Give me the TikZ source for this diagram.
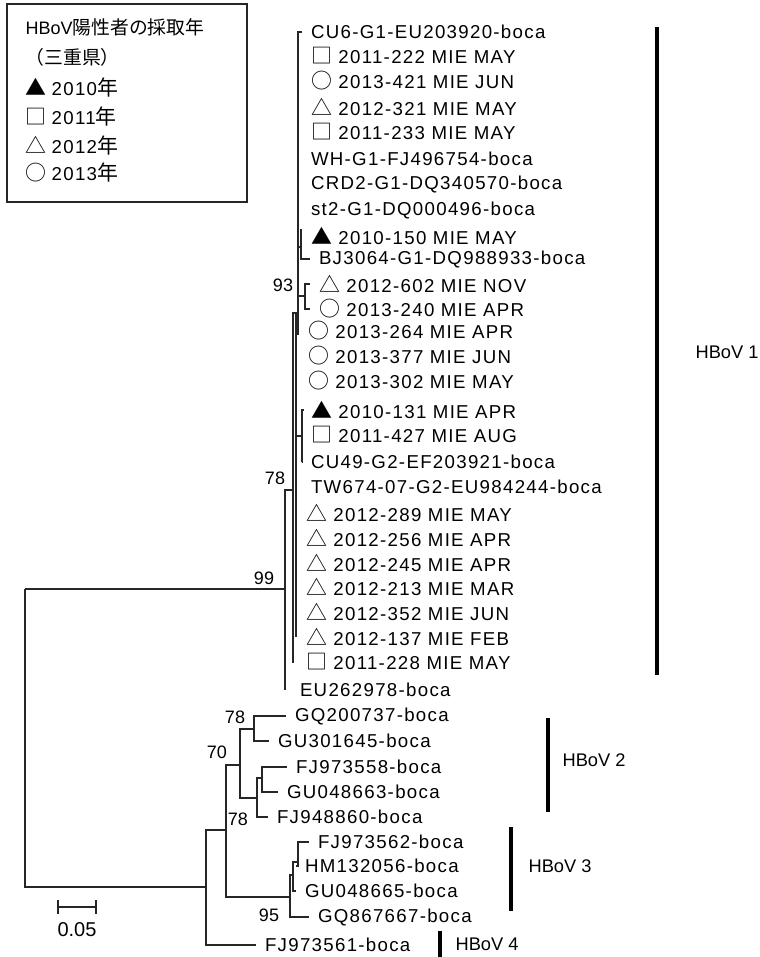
\documentclass[tikz,border=0pt]{standalone}
\usepackage{fontspec}
\setmainfont{Liberation Sans}
\newfontfamily\lab[LetterSpace=7]{Liberation Sans}
\newfontfamily\cjk[Scale=1.12]{Noto Sans CJK JP}
\newcommand{\smb}[1]{{\cjk #1}}

\begin{document}
\begin{tikzpicture}[x=0.75pt, y=-0.75pt, line width=0.9pt,
  leaf/.style={anchor=west, inner sep=0pt, outer xsep=7pt, xshift=-7pt, font=\lab\fontsize{14}{16}\selectfont},
  bsv/.style={inner sep=0pt, font=\fontsize{13.5}{15}\selectfont},
  cladebar/.style={line width=2.3pt},
  cladename/.style={anchor=west, inner sep=0pt, font=\fontsize{13.7}{15}\selectfont},
  legtext/.style={anchor=west, inner sep=0pt, font=\lab\fontsize{14}{16}\selectfont}]
  \useasboundingbox (0,0) rectangle (760,957);

  % 1. 凡例
  \draw[line width=0.9pt, black!85] (7,4) rectangle (247,202);
  \node[legtext] (lg0) at (25,27) {{\rmfamily\fontsize{13.5}{15}\selectfont HBoV}{\fontsize{12.6}{15}\cjk 陽性者の採取年}};
  \node[legtext] (lg1) at (25,57) {{\fontsize{12.6}{15}\cjk （三重県）}};
  \node[legtext] (lg2) at (25,88) {\smb{▲}\;2010\smb{年}};
  \node[legtext] (lg3) at (25,117) {\smb{□}\;2011\smb{年}};
  \node[legtext] (lg4) at (25,146) {\smb{△}\;2012\smb{年}};
  \node[legtext] (lg5) at (25,173) {\smb{○}\;2013\smb{年}};

  % 2. 末端ラベル
  \foreach \n/\x/\y/\t in {
    cu6/311/32/CU6-G1-EU203920-boca,
    m222/311/56/\smb{□} 2011-222 MIE MAY,
    m421/311/81/\smb{○} 2013-421 MIE JUN,
    m321/311/107/\smb{△} 2012-321 MIE MAY,
    m233/311/132/\smb{□} 2011-233 MIE MAY,
    wh/311/159/WH-G1-FJ496754-boca,
    crd2/311/184/CRD2-G1-DQ340570-boca,
    st2/311/210/st2-G1-DQ000496-boca,
    m150/311/236/\smb{▲} 2010-150 MIE MAY,
    bj/319/259/BJ3064-G1-DQ988933-boca,
    m602/319/284/\smb{△} 2012-602 MIE NOV,
    m240/319/309/\smb{○} 2013-240 MIE APR,
    m264/308/331/\smb{○} 2013-264 MIE APR,
    m377/308/356/\smb{○} 2013-377 MIE JUN,
    m302/308/381/\smb{○} 2013-302 MIE MAY,
    m131/311/410/\smb{▲} 2010-131 MIE APR,
    m427/311/435/\smb{□} 2011-427 MIE AUG,
    cu49/311/462/CU49-G2-EF203921-boca,
    tw/311/487/TW674-07-G2-EU984244-boca,
    m289/306/513/\smb{△} 2012-289 MIE MAY,
    m256/306/538/\smb{△} 2012-256 MIE APR,
    m245/306/563/\smb{△} 2012-245 MIE APR,
    m213/306/587/\smb{△} 2012-213 MIE MAR,
    m352/306/612/\smb{△} 2012-352 MIE JUN,
    m137/306/637/\smb{△} 2012-137 MIE FEB,
    m228/306/662/\smb{□} 2011-228 MIE MAY,
    eu/300/690/EU262978-boca,
    gq1/295/716/GQ200737-boca,
    gu1/278/741/GU301645-boca,
    fj58/296/767/FJ973558-boca,
    gu63/287/792/GU048663-boca,
    fj60/277/817/FJ948860-boca,
    fj62/318/842/FJ973562-boca,
    hm/305/866/HM132056-boca,
    gu65/305/891/GU048665-boca,
    gq67/318/917/GQ867667-boca,
    fj61/265/945/FJ973561-boca}
    \node[leaf] (\n) at (\x,\y) {\t};

  % 3. 内部ノード
  \coordinate (R) at (25,589);
  \coordinate (A) at (285,589);
  \coordinate (B) at (293,490);
  \coordinate (C) at (296,313);
  \coordinate (D) at (298,313);
  \coordinate (N150) at (301,247);
  \coordinate (N93) at (305,296);
  \coordinate (N131) at (302,436);
  \coordinate (N206) at (206,887);
  \coordinate (N226) at (226,830);
  \coordinate (N240) at (240,765);
  \coordinate (N254) at (254,729);
  \coordinate (N257) at (257,798);
  \coordinate (N262) at (262,778);
  \coordinate (N290) at (290,897);
  \coordinate (N293) at (293,875);
  \coordinate (N298) at (298,862);
  % 長さ0の枝の端
  \coordinate (eut) at (285,690);
  \coordinate (t228) at (293,663);
  \coordinate (t137) at (296,637);
  \coordinate (t264) at (298,335);
  \coordinate (t150) at (301,229);
  \coordinate (t131) at (304,410);

  % 4. 枝
  \begin{scope}[black!85]
    \draw (R) |- (A);
    \draw (R) |- (N206);
    \draw (A) |- (B);
    \draw (A) |- (eut);
    \draw (B) |- (C);
    \draw (B) |- (t228);
    \draw (C) |- (D);
    \draw (C) |- (t137);
    \draw (C) |- (N131);
    \draw (D) |- (cu6);
    \draw (D) |- (t264);
    \draw (D) |- (N150);
    \draw (D) |- (N93);
    \draw (N150) |- (t150);
    \draw (N150) |- (bj);
    \draw (N93) |- (m602);
    \draw (N93) |- (m240);
    \draw (N131) |- (t131);
    \draw (N131) |- (cu49);
    \draw (N206) |- (N226);
    \draw (N206) |- (fj61);
    \draw (N226) |- (N240);
    \draw (N226) |- (N290);
    \draw (N240) |- (N254);
    \draw (N240) |- (N257);
    \draw (N254) |- (gq1);
    \draw (N254) |- (gu1);
    \draw (N257) |- (N262);
    \draw (N257) |- (fj60);
    \draw (N262) |- (fj58);
    \draw (N262) |- (gu63);
    \draw (N290) |- (N293);
    \draw (N290) |- (gq67);
    \draw (N293) |- (N298);
    \draw (N293) |- (gu65);
    \draw (N298) |- (fj62);
    \draw (N298) |- (hm);
  \end{scope}

  % 5. ブートストラップ値
  \node[bsv] (b99) at (264,578) {99};
  \node[bsv] (b93) at (283,285) {93};
  \node[bsv] (b78a) at (275,478) {78};
  \node[bsv] (b78b) at (235,717) {78};
  \node[bsv] (b70) at (217,752) {70};
  \node[bsv] (b78c) at (238,819) {78};
  \node[bsv] (b95) at (269,915) {95};

  % 6. 遺伝子型
  \draw[cladebar] (657,27) -- (657,675);
  \node[cladename] (g1) at (695,352) {HBoV 1};
  \draw[cladebar] (548,718) -- (548,812);
  \node[cladename] (g2) at (562,760) {HBoV 2};
  \draw[cladebar] (511,827) -- (511,911);
  \node[cladename] (g3) at (528,866) {HBoV 3};
  \draw[cladebar] (440,931) -- (440,957);
  \node[cladename] (g4) at (455,944) {HBoV 4};

  % 7. スケール
  \draw[black!85] (58,900) -- (58,914) (58,907) -- (96,907) (96,900) -- (96,914);
  \node[bsv, font=\fontsize{15}{17}\selectfont] (sc) at (77,930) {0.05};
\end{tikzpicture}
\end{document}
